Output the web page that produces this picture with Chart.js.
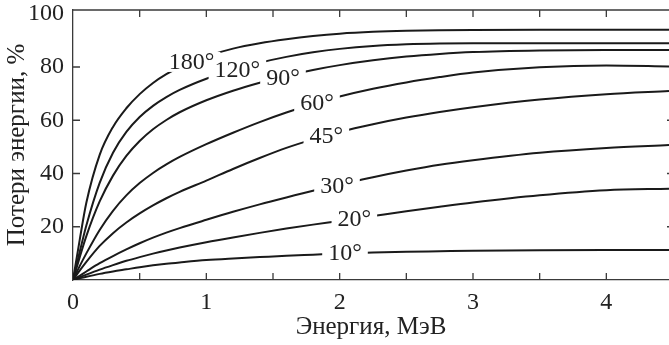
<!DOCTYPE html>
<html>
<head>
<meta charset="utf-8">
<script src="https://cdn.jsdelivr.net/npm/chart.js@4"></script>
<style>
  html, body { margin: 0; padding: 0; background: #fff; }
</style>
</head>
<body>
<canvas id="lossChart" width="669" height="345"></canvas>
<script>
// Data: energy loss (%) vs. photon energy (MeV) for scattering angles
const energy = [0, 0.05, 0.1, 0.2, 0.3, 0.4, 0.5, 0.6, 0.7, 0.8, 1.0, 1.2, 1.4, 1.6, 1.8, 2.0, 2.25, 2.5, 2.75, 3.0, 3.5, 4.0, 4.47];
const loss180 = [0, 15, 29, 47, 57.5, 64.5, 69.8, 74, 77.3, 80, 84, 86.9, 88.9, 90.4, 91.6, 92.5, 93.2, 93.6, 93.8, 93.9, 94, 94, 94];
const loss120 = [0, 10.5, 20.5, 36.5, 47.8, 55.6, 61.2, 65.4, 68.7, 71.4, 75.6, 78.9, 81.6, 83.8, 85.5, 86.8, 87.9, 88.5, 88.8, 88.9, 88.9, 88.9, 88.9];
const loss90 = [0, 8.5, 16.5, 29.5, 39.2, 46.6, 52.2, 56.6, 60.1, 63, 67.5, 71.1, 74.1, 76.7, 78.9, 80.7, 82.5, 83.9, 84.9, 85.6, 86.2, 86.4, 86.4];
const loss60 = [0, 5.2, 10, 18.8, 26, 31.8, 36.4, 40.2, 43.4, 46.2, 51, 55.3, 59.3, 62.9, 66.1, 68.9, 71.8, 74.2, 76.2, 77.9, 79.9, 80.6, 80.2];
const loss45 = [0, 3.5, 6.8, 12.8, 17.6, 21.6, 25, 28, 30.7, 33.1, 37.3, 41.7, 45.8, 49.6, 52.8, 55.6, 58.5, 61, 63.1, 64.9, 67.8, 69.8, 71];
const loss30 = [0, 1.6, 3.2, 6.3, 9, 11.5, 13.8, 15.9, 17.8, 19.5, 22.6, 25.6, 28.4, 31, 33.5, 35.8, 38.6, 41.1, 43.3, 45, 47.8, 49.6, 50.7];
const loss20 = [0, 1, 2, 3.9, 5.6, 7.2, 8.6, 9.9, 11.1, 12.2, 14.2, 16, 17.7, 19.3, 20.8, 22.2, 24, 25.8, 27.5, 29.1, 31.8, 33.7, 34.3];
const loss10 = [0, 0.6, 1.2, 2.3, 3.2, 4, 4.8, 5.5, 6.1, 6.6, 7.5, 8.1, 8.6, 9.1, 9.5, 9.9, 10.3, 10.6, 10.8, 11, 11.2, 11.3, 11.3];

// Curve labels and where they sit (energy, loss)
const angleNames = ['180°', '120°', '90°', '60°', '45°', '30°', '20°', '10°'];
const labelEnergy = [0.89, 1.233, 1.575, 1.83, 1.9, 1.98, 2.11, 2.04];
const labelLoss = [81.9, 78.9, 75.9, 66.5, 54.1, 35.5, 23.1, 10.3];

// Axis ticks
const xTickLabels = [0, 1, 2, 3, 4];
const xTickMarks = [0.5, 1, 1.5, 2, 2.5, 3, 3.5, 4];
const yTickLabels = [20, 40, 60, 80, 100];
const yTickMarks = [20, 40, 60, 80];
const rightTickMarks = [20, 40, 60];

const lineColor = '#1a1a1a';
const axisColor = '#3a3a3a';
const serif = "'Liberation Serif', 'Times New Roman', serif";

const seriesList = [loss180, loss120, loss90, loss60, loss45, loss30, loss20, loss10];

// inward tick marks + top frame line
const frameTicks = {
    id: 'frameTicks',
    afterDraw(chart) {
        const { ctx, chartArea: a, scales: { x, y } } = chart;
        ctx.save();
        ctx.strokeStyle = axisColor;
        ctx.lineWidth = 1.3;
        ctx.beginPath();
        ctx.moveTo(a.left, a.top);
        ctx.lineTo(a.right, a.top);
        xTickMarks.forEach(v => {
            const px = x.getPixelForValue(v);
            ctx.moveTo(px, a.bottom);
            ctx.lineTo(px, a.bottom - 7);
            ctx.moveTo(px, a.top);
            ctx.lineTo(px, a.top + 7);
        });
        yTickMarks.forEach(v => {
            const py = y.getPixelForValue(v);
            ctx.moveTo(a.left, py);
            ctx.lineTo(a.left + 7, py);
        });
        // the right frame is cut off, only the tips of its ticks show
        rightTickMarks.forEach(v => {
            const py = y.getPixelForValue(v);
            ctx.moveTo(a.right - 2, py);
            ctx.lineTo(a.right, py);
        });
        ctx.stroke();
        ctx.restore();
    }
};

// angle labels sitting in gaps of the curves
const curveLabels = {
    id: 'curveLabels',
    afterDatasetsDraw(chart) {
        const { ctx, scales: { x, y } } = chart;
        ctx.save();
        ctx.font = '24px ' + serif;
        ctx.textAlign = 'center';
        ctx.textBaseline = 'middle';
        angleNames.forEach((name, i) => {
            const px = x.getPixelForValue(labelEnergy[i]);
            const py = y.getPixelForValue(labelLoss[i]);
            const w = ctx.measureText(name).width;
            ctx.fillStyle = '#fff';
            ctx.fillRect(px - w / 2 - 6, py - 10, w + 12, 20);
            ctx.fillStyle = '#222';
            ctx.fillText(name, px, py + 1);
        });
        ctx.restore();
    }
};

function noPad(scale) {
    scale.paddingTop = 0;
    scale.paddingBottom = 0;
    scale.paddingLeft = 0;
    scale.paddingRight = 0;
}

new Chart(document.getElementById('lossChart'), {
    type: 'line',
    data: {
        datasets: seriesList.map((vals, i) => ({
            label: angleNames[i],
            data: energy.map((e, j) => ({ x: e, y: vals[j] })),
            borderColor: lineColor,
            borderWidth: 2,
            pointRadius: 0,
            fill: false,
            cubicInterpolationMode: 'monotone'
        }))
    },
    options: {
        responsive: false,
        animation: false,
        layout: {
            autoPadding: false,
            padding: { top: 10, right: 0, left: 0, bottom: 0 }
        },
        scales: {
            x: {
                type: 'linear',
                min: 0,
                max: 4.47,
                afterBuildTicks: scale => { scale.ticks = xTickLabels.map(v => ({ value: v })); },
                afterFit: scale => { scale.height = 65; noPad(scale); },
                grid: { display: false, drawTicks: false },
                border: { display: true, color: axisColor, width: 1.3 },
                ticks: {
                    padding: 8,
                    color: '#222',
                    font: { family: serif, size: 24 },
                    maxRotation: 0
                },
                title: {
                    display: true,
                    text: 'Энергия, МэВ',
                    color: '#222',
                    font: { family: serif, size: 25 },
                    padding: { top: 0, bottom: 3 }
                }
            },
            y: {
                min: 0,
                max: 101.4,
                afterBuildTicks: scale => { scale.ticks = yTickLabels.map(v => ({ value: v })); },
                afterFit: scale => { scale.width = 73; noPad(scale); },
                grid: { display: false, drawTicks: false },
                border: { display: true, color: axisColor, width: 1.3 },
                ticks: {
                    padding: 9,
                    color: '#222',
                    font: { family: serif, size: 24 }
                },
                title: {
                    display: true,
                    text: 'Потери энергии, %',
                    color: '#222',
                    font: { family: serif, size: 25 },
                    padding: { top: 2, bottom: 0 }
                }
            }
        },
        plugins: {
            legend: { display: false },
            tooltip: { enabled: false }
        }
    },
    plugins: [frameTicks, curveLabels]
});
</script>
</body>
</html>
